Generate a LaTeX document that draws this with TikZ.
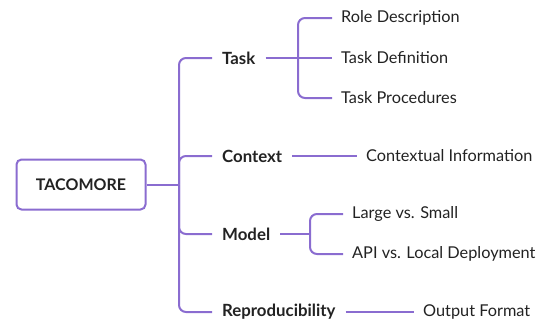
\documentclass[tikz,border=0pt]{standalone}
\usepackage{fontspec}
\setmainfont{Lato}
\definecolor{lc}{HTML}{8A6CD0}
\definecolor{tc}{HTML}{222222}
\begin{document}
\begin{tikzpicture}[x=1pt,y=-1pt,
  conn/.style={draw=lc,line width=2pt,rounded corners=7pt},
  lbl/.style={font=\fontsize{16.8}{19}\selectfont\bfseries,text=tc,anchor=west,inner xsep=10pt,inner ysep=2pt},
  leaf/.style={font=\fontsize{16.3}{19}\selectfont,text=tc,anchor=west,inner xsep=9pt,inner ysep=2pt}]
\useasboundingbox (0,0) rectangle (541,322);
\node[draw=lc,line width=2pt,rounded corners=5pt,minimum width=129pt,minimum height=50pt,
  font=\fontsize{16}{19}\selectfont\bfseries,text=tc] (root) at (81,184.5) {TACOMORE};
\coordinate (trunk) at (179,184.5);
\node[lbl] (task) at (212,58) {Task};
\node[lbl] (ctx) at (212,156) {Context};
\node[lbl] (model) at (212,234) {Model};
\node[lbl] (rep) at (212,312) {Reproducibility};
\node[leaf] (l1) at (332,18) {Role Description};
\node[leaf] (l2) at (332,58) {Task Definition};
\node[leaf] (l3) at (332,98) {Task Procedures};
\node[leaf] (l4) at (357,156) {Contextual Information};
\node[leaf] (l5) at (343,214) {Large vs. Small};
\node[leaf] (l6) at (343,254) {API vs. Local Deployment};
\node[leaf] (l7) at (414,312) {Output Format};
\coordinate (tj) at (298,58);
\coordinate (mj) at (310,234);
\draw[conn] (root.east) -- (trunk);
\draw[conn] (trunk) |- (task.west);
\draw[conn] (trunk) |- (ctx.west);
\draw[conn] (trunk) |- (model.west);
\draw[conn] (trunk) |- (rep.west);
\draw[conn] (task.east) -- (tj);
\draw[conn] (tj) |- (l1.west);
\draw[conn] (tj) -- (l2.west);
\draw[conn] (tj) |- (l3.west);
\draw[conn] (ctx.east) -- (l4.west);
\draw[conn] (model.east) -- (mj);
\draw[conn] (mj) |- (l5.west);
\draw[conn] (mj) |- (l6.west);
\draw[conn] (rep.east) -- (l7.west);
\end{tikzpicture}
\end{document}
